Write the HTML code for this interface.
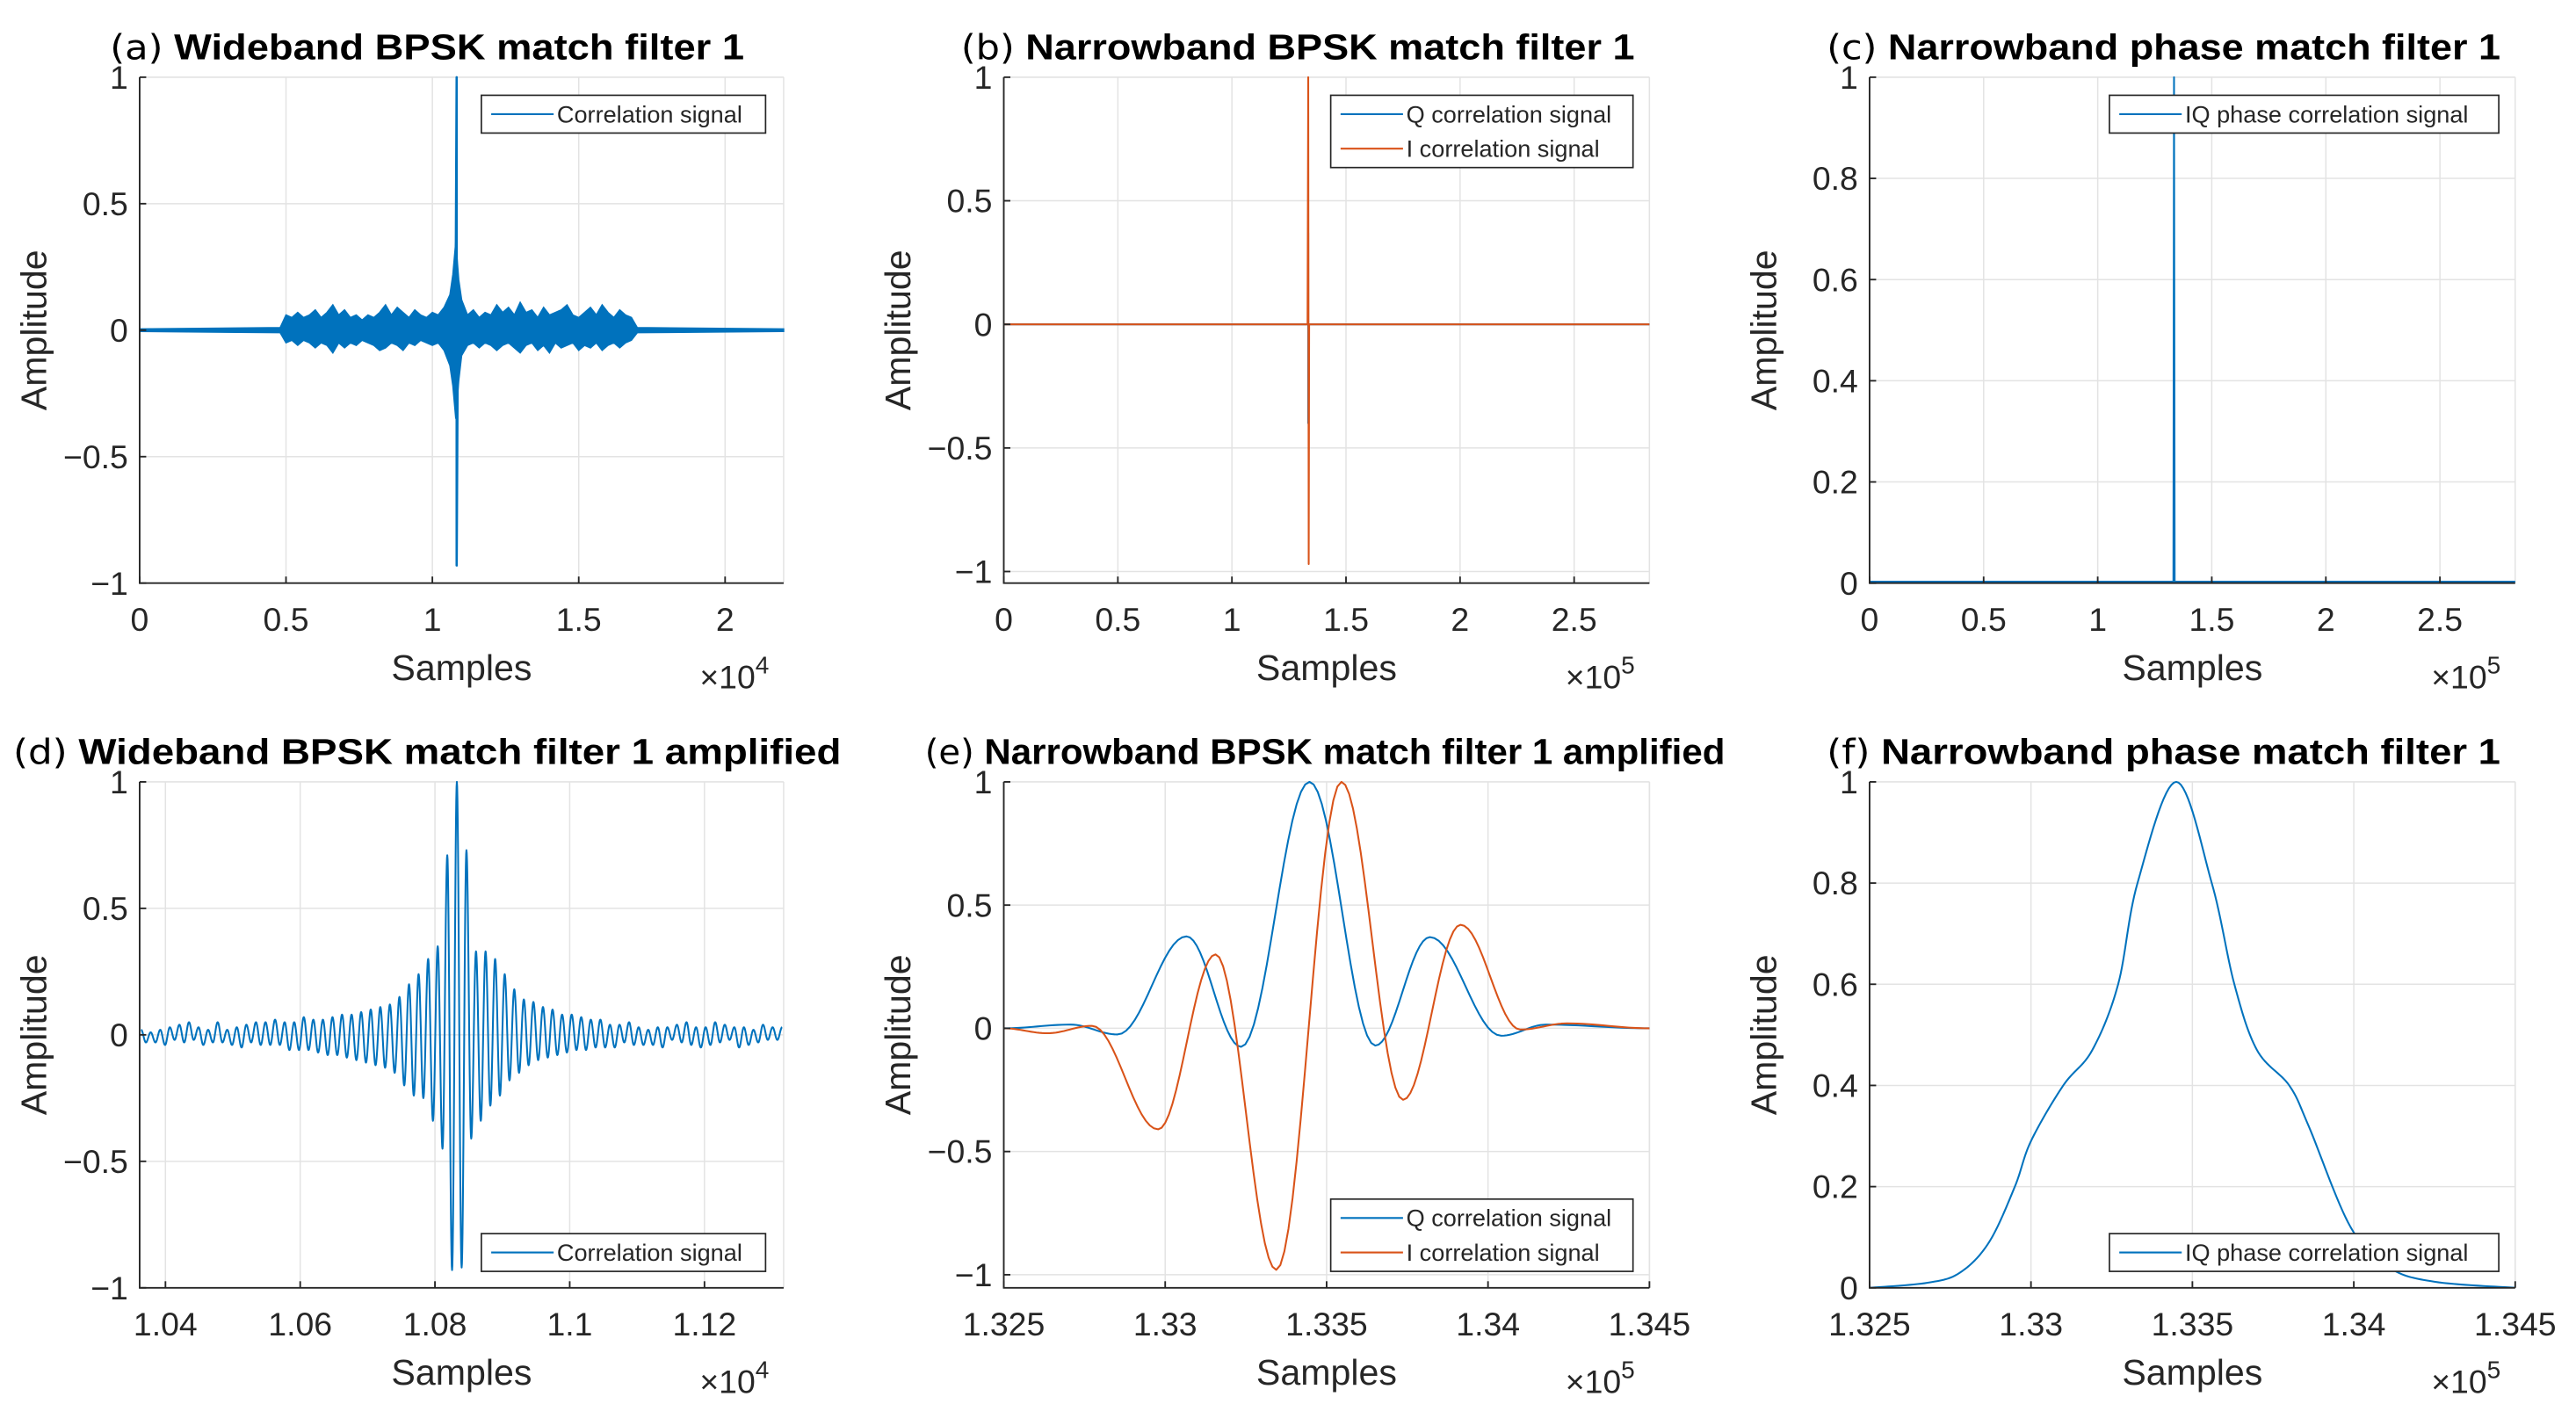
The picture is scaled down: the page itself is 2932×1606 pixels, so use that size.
<!DOCTYPE html>
<html><head><meta charset="utf-8"><style>
html,body{margin:0;padding:0;background:#fff;}
svg{display:block;font-family:"Liberation Sans",Arial,sans-serif;}
</style></head><body>
<svg id="fig" width="2932" height="1606" viewBox="0 0 1568 859" preserveAspectRatio="none" xmlns="http://www.w3.org/2000/svg"></svg>
<script>
// ---------- data ----------
const aEnvX = [0,0.48,0.5,0.52,0.54,0.56,0.58,0.6,0.62,0.64,0.66,0.68,0.7,0.72,0.74,0.76,0.78,0.8,0.82,0.84,0.86,0.88,0.9,0.92,0.94,0.96,0.98,1.0,1.02,1.04,1.06,1.07,1.08,1.09,1.10,1.12,1.14,1.16,1.18,1.2,1.22,1.24,1.26,1.28,1.3,1.32,1.34,1.36,1.38,1.4,1.42,1.44,1.46,1.48,1.5,1.52,1.54,1.56,1.58,1.6,1.62,1.64,1.66,1.68,1.7,2.2];
const aEnvUpper = [0.005,0.01,0.06,0.05,0.07,0.05,0.06,0.08,0.05,0.07,0.1,0.06,0.08,0.05,0.06,0.04,0.06,0.05,0.07,0.1,0.06,0.09,0.07,0.05,0.08,0.06,0.05,0.07,0.06,0.09,0.14,0.22,0.35,0.2,0.12,0.06,0.08,0.05,0.07,0.06,0.1,0.07,0.09,0.06,0.11,0.07,0.08,0.05,0.09,0.06,0.07,0.08,0.1,0.06,0.05,0.07,0.09,0.06,0.1,0.07,0.05,0.08,0.06,0.05,0.01,0.005];
const aEnvLower = [-0.005,-0.01,-0.05,-0.04,-0.06,-0.04,-0.05,-0.07,-0.05,-0.06,-0.09,-0.05,-0.07,-0.05,-0.06,-0.04,-0.05,-0.06,-0.08,-0.07,-0.05,-0.06,-0.08,-0.05,-0.06,-0.04,-0.05,-0.06,-0.05,-0.08,-0.14,-0.22,-0.35,-0.2,-0.1,-0.06,-0.05,-0.07,-0.05,-0.06,-0.08,-0.06,-0.05,-0.07,-0.09,-0.06,-0.05,-0.08,-0.06,-0.09,-0.05,-0.07,-0.06,-0.05,-0.08,-0.06,-0.07,-0.05,-0.08,-0.06,-0.05,-0.07,-0.05,-0.04,-0.01,-0.005];
const aSpikeX = 1.083, aSpikeMax = 1.0, aSpikeMin = -0.93;

const bSpikeX = 1.3345, bIMax = 1.0, bIMin = -0.97, bQMax = 0.37, bQMin = -0.40;

const cX = [0, 1.3318, 1.3345, 1.3372, 2.83];
const cY = [0.003, 0.003, 1.0, 0.003, 0.003];

const dStart = 1.03639, dHalfPeriod = 0.00071;
const dExtrema = [
0.02,-0.03,0.01,-0.03,0.02,-0.04,0.03,-0.02,0.04,-0.03,0.05,-0.02,0.03,-0.04,0.02,-0.03,0.05,-0.03,0.02,-0.04,0.03,-0.05,0.04,-0.03,0.05,-0.04,0.05,-0.04,0.06,-0.04,0.05,-0.06,0.05,-0.06,0.07,-0.06,
0.06,-0.07,0.06,-0.08,0.07,-0.08,0.08,-0.09,0.08,-0.10,0.09,-0.11,0.10,-0.12,0.11,-0.13,0.12,-0.15,0.15,-0.20,0.20,-0.24,0.24,-0.25,0.30,-0.34,0.35,-0.45,0.71,-0.93,
1.0,
-0.92,0.73,-0.41,0.33,-0.34,0.33,-0.28,0.30,-0.24,0.24,-0.18,0.18,-0.15,0.14,-0.12,0.13,-0.10,0.11,-0.09,0.10,-0.08,0.08,-0.07,0.08,-0.06,0.07,-0.06,0.06,-0.05,0.06,-0.05,0.04,-0.05,0.04,-0.03,0.05,-0.04,0.03,-0.04,0.02,-0.04,0.03,-0.05,0.03,-0.02,0.04,-0.03,0.05,-0.04,0.03,-0.05,0.03,-0.04,0.05,-0.03,0.04,-0.02,0.03,-0.05,0.03,-0.04,0.02,-0.03,0.04,-0.02,0.03,-0.02,0.03];

const eQX = [1.325,1.32707,1.32852,1.33066,1.33235,1.33447,1.33651,1.3382,1.34041,1.3418,1.345];
const eQY = [0,0.015,-0.025,0.373,-0.075,1.0,-0.07,0.37,-0.03,0.015,0];
const eIX = [1.325,1.32635,1.32773,1.32978,1.33156,1.33344,1.33546,1.33737,1.33915,1.341,1.34245,1.345];
const eIY = [0,-0.02,0.01,-0.41,0.30,-0.98,1.0,-0.29,0.42,-0.005,0.02,0];

const fX = [1.325,1.3268,1.3278,1.3287,1.3295,1.3300,1.3310,1.3319,1.3327,1.3333,1.3345,1.3356,1.3363,1.3370,1.3380,1.3386,1.3399,1.3411,1.3425,1.345];
const fY = [0,0.01,0.03,0.09,0.2,0.29,0.40,0.47,0.6,0.8,1.0,0.8,0.6,0.47,0.40,0.32,0.12,0.04,0.012,0];

const ticksA = [0,0.5,1,1.5,2], ticksBC = [0,0.5,1,1.5,2,2.5];
const ticksD = [1.04,1.06,1.08,1.1,1.12], ticksEF = [1.325,1.33,1.335,1.34,1.345];
const ticksY1 = [-1,-0.5,0,0.5,1], ticksY01 = [0,0.2,0.4,0.6,0.8,1];

// ---------- helpers ----------
const NS = "http://www.w3.org/2000/svg";
const svg = document.getElementById('fig');
const BLUE = "#0072BD", ORANGE = "#D95319", TXT = "#262626";
function mk(tag, attrs, parent){ const e = document.createElementNS(NS, tag); for (const k in attrs) e.setAttribute(k, attrs[k]); (parent||svg).appendChild(e); return e; }
function fmt(v){ let s = String(+v.toFixed(4)); return s.replace('-', '\u2212'); }

function panel(cfg){
  const g = mk('g', {});
  
  
  const X = v => cfg.x0 + (v - cfg.xmin) / (cfg.xmax - cfg.xmin) * (cfg.x1 - cfg.x0);
  const Y = v => cfg.y1 - (v - cfg.ymin) / (cfg.ymax - cfg.ymin) * (cfg.y1 - cfg.y0);
  cfg.xt.forEach(t => { const l = mk('line', {x1:X(t), x2:X(t), y1:cfg.y0, y2:cfg.y1, stroke:"#e3e3e3", "stroke-width":0.8}, g);   });
  cfg.yt.forEach(t => { const l = mk('line', {x1:cfg.x0, x2:cfg.x1, y1:Y(t), y2:Y(t), stroke:"#e3e3e3", "stroke-width":0.8}, g);   });
  mk('line', {x1:cfg.x0, x2:cfg.x1, y1:cfg.y0, y2:cfg.y0, stroke:"#e3e3e3", "stroke-width":0.8}, g);
  mk('line', {x1:cfg.x1, x2:cfg.x1, y1:cfg.y0, y2:cfg.y1, stroke:"#e3e3e3", "stroke-width":0.8}, g);
  const sg = mk('g', {}, g);
  
  
  const clip = mk('clipPath', {id: cfg.name + '-clip'});
  mk('rect', {x:cfg.x0, y:cfg.y0-1, width:cfg.x1-cfg.x0+1, height:cfg.y1-cfg.y0+1}, clip);
  sg.setAttribute('clip-path', 'url(#' + cfg.name + '-clip)');
  cfg.draw(sg, X, Y);
  const ax = mk('path', {d:`M${cfg.x0},${cfg.y0}V${cfg.y1}H${cfg.x1}`, fill:"none", stroke:TXT, "stroke-width":1}, g);
   
  cfg.xt.forEach(t => {
    mk('line', {x1:X(t), x2:X(t), y1:cfg.y1, y2:cfg.y1-4, stroke:TXT, "stroke-width":1}, g);
    const tx = mk('text', {x:X(t), y:cfg.y1+29, "text-anchor":"middle", "font-size":20, fill:TXT}, g);
    tx.textContent = fmt(t);
     
  });
  cfg.yt.forEach(t => {
    mk('line', {x1:cfg.x0, x2:cfg.x0+4, y1:Y(t), y2:Y(t), stroke:TXT, "stroke-width":1}, g);
    const tx = mk('text', {x:cfg.x0-7, y:Y(t)+7, "text-anchor":"end", "font-size":20, fill:TXT}, g);
    tx.textContent = fmt(t);
     
  });
  const xl = mk('text', {x:(cfg.x0+cfg.x1)/2, y:cfg.y1+59, "text-anchor":"middle", "font-size":22, fill:TXT}, g);
  xl.textContent = 'Samples';  
  const ex = mk('text', {x:cfg.x1-30, y:cfg.y1+64, "text-anchor":"middle", "font-size":20, fill:TXT}, g);
  ex.innerHTML = '\u00d710<tspan dy="-9" font-size="15">' + cfg.exp + '</tspan>';
   
  const yl = mk('text', {x:0, y:0, transform:`translate(${cfg.x0-57},${(cfg.y0+cfg.y1)/2}) rotate(-90)`, "text-anchor":"middle", "font-size":22, fill:TXT}, g);
  yl.textContent = 'Amplitude';  
  const tt = mk('text', {x:cfg.tx, y:cfg.ty, "font-size":22, fill:"#000"}, g);
  tt.innerHTML = '<tspan font-family="DejaVu Sans, sans-serif" font-size="21">' + cfg.tp + '</tspan><tspan font-weight="bold"> ' + cfg.title + '</tspan>';
  tt.setAttribute('textLength', cfg.tw); tt.setAttribute('lengthAdjust','spacingAndGlyphs');
   
  const lg = mk('g', {}, g);
   
  const h = cfg.legend.length * 21 + 2;
  mk('rect', {x:cfg.lx, y:cfg.ly, width:cfg.lw, height:h, fill:"#fff", stroke:TXT, "stroke-width":0.9}, lg);
  cfg.legend.forEach((e, i) => {
    const yy = cfg.ly + 11.5 + i*21;
    const le = mk('g', {}, lg);
     
    mk('line', {x1:cfg.lx+6, x2:cfg.lx+44, y1:yy, y2:yy, stroke:e[1], "stroke-width":1.1}, le);
    const t = mk('text', {x:cfg.lx+46, y:yy+5, "font-size":14.5, fill:TXT}, le);
    t.textContent = e[0];
  });
}
function polyline(parent, pts, color, name, w){
  const p = mk('polyline', {points: pts.map(q => q[0].toFixed(2)+','+q[1].toFixed(2)).join(' '), fill:"none", stroke:color, "stroke-width":w||1.1, "stroke-linejoin":"round"}, parent);
   
  return p;
}
function cosPts(xs, ys, X, Y){
  const pts = [];
  for (let i=0;i<xs.length-1;i++){
    for (let k=0;k<16;k++){ const t=k/16, s=(1-Math.cos(Math.PI*t))/2; pts.push([X(xs[i]+(xs[i+1]-xs[i])*t), Y(ys[i]+(ys[i+1]-ys[i])*s)]); }
  }
  pts.push([X(xs[xs.length-1]), Y(ys[ys.length-1])]);
  return pts;
}
function crPts(xs, ys, X, Y){
  const P = xs.map((x,i)=>[X(x),Y(ys[i])]); const pts=[];
  for (let i=0;i<P.length-1;i++){
    const p0=P[Math.max(0,i-1)], p1=P[i], p2=P[i+1], p3=P[Math.min(P.length-1,i+2)];
    for (let k=0;k<16;k++){ const t=k/16,t2=t*t,t3=t2*t;
      pts.push([0.5*((2*p1[0])+(-p0[0]+p2[0])*t+(2*p0[0]-5*p1[0]+4*p2[0]-p3[0])*t2+(-p0[0]+3*p1[0]-3*p2[0]+p3[0])*t3),
                0.5*((2*p1[1])+(-p0[1]+p2[1])*t+(2*p0[1]-5*p1[1]+4*p2[1]-p3[1])*t2+(-p0[1]+3*p1[1]-3*p2[1]+p3[1])*t3)]); }
  }
  pts.push(P[P.length-1]); return pts;
}

panel({name:'panel-a', x0:85, x1:477, y0:47, y1:355, xmin:0, xmax:2.2, ymin:-1, ymax:1, xt:ticksA, yt:ticksY1, exp:4,
  tx:67, ty:36, tw:386, tp:'(a)', title:'Wideband BPSK match filter 1', lx:293, ly:58, lw:173, legend:[['Correlation signal',BLUE]],
  draw:(g,X,Y)=>{
    const up = aEnvX.map((x,i)=>[X(x),Y(aEnvUpper[i])]);
    const lo = aEnvX.map((x,i)=>[X(x),Y(aEnvLower[i])]).reverse();
    const a = mk('polygon',{points:up.concat(lo).map(q=>q.join(',')).join(' '), fill:BLUE, stroke:BLUE, "stroke-width":0.8, "stroke-linejoin":"miter"}, g);
     
    polyline(g, [[X(aSpikeX-0.004),Y(0)],[X(aSpikeX),Y(aSpikeMax)],[X(aSpikeX),Y(aSpikeMin)],[X(aSpikeX+0.004),Y(0)]], BLUE, 'correlation-spike', 1.4);
  }});
panel({name:'panel-b', x0:611, x1:1004, y0:47, y1:355, xmin:0, xmax:2.83, ymin:-1.047, ymax:1, xt:ticksBC, yt:ticksY1, exp:5,
  tx:585, ty:36, tw:410, tp:'(b)', title:'Narrowband BPSK match filter 1', lx:810, ly:58, lw:184, legend:[['Q correlation signal',BLUE],['I correlation signal',ORANGE]],
  draw:(g,X,Y)=>{
    polyline(g, [[X(0),Y(0)],[X(bSpikeX),Y(0)],[X(bSpikeX),Y(bQMax)],[X(bSpikeX),Y(bQMin)],[X(bSpikeX),Y(0)],[X(2.83),Y(0)]], BLUE, 'q-correlation-line');
    polyline(g, [[X(0),Y(0)],[X(bSpikeX-0.003),Y(0)],[X(bSpikeX),Y(bIMax)],[X(bSpikeX+0.002),Y(bIMin)],[X(bSpikeX+0.004),Y(0)],[X(2.83),Y(0)]], ORANGE, 'i-correlation-line');
  }});
panel({name:'panel-c', x0:1138, x1:1531, y0:47, y1:355, xmin:0, xmax:2.83, ymin:0, ymax:1, xt:ticksBC, yt:ticksY01, exp:5,
  tx:1112, ty:36, tw:410, tp:'(c)', title:'Narrowband phase match filter 1', lx:1284, ly:58, lw:237, legend:[['IQ phase correlation signal',BLUE]],
  draw:(g,X,Y)=>{ polyline(g, cX.map((x,i)=>[X(x),Y(cY[i])]), BLUE, 'iq-phase-correlation-line'); }});
panel({name:'panel-d', x0:85, x1:477, y0:476, y1:784, xmin:1.03617, xmax:1.13175, ymin:-1, ymax:1, xt:ticksD, yt:ticksY1, exp:4,
  tx:8, ty:465, tw:504, tp:'(d)', title:'Wideband BPSK match filter 1 amplified', lx:293, ly:751, lw:173, legend:[['Correlation signal',BLUE]],
  draw:(g,X,Y)=>{ const xs = dExtrema.map((v,i)=>dStart+i*dHalfPeriod); polyline(g, cosPts(xs, dExtrema, X, Y), BLUE, 'correlation-signal-line'); }});
panel({name:'panel-e', x0:611, x1:1004, y0:476, y1:784, xmin:1.325, xmax:1.345, ymin:-1.053, ymax:1, xt:ticksEF, yt:ticksY1, exp:5,
  tx:563, ty:465, tw:487, tp:'(e)', title:'Narrowband BPSK match filter 1 amplified', lx:810, ly:730, lw:184, legend:[['Q correlation signal',BLUE],['I correlation signal',ORANGE]],
  draw:(g,X,Y)=>{ polyline(g, cosPts(eQX,eQY,X,Y), BLUE, 'q-correlation-line'); polyline(g, cosPts(eIX,eIY,X,Y), ORANGE, 'i-correlation-line'); }});
panel({name:'panel-f', x0:1138, x1:1531, y0:476, y1:784, xmin:1.325, xmax:1.345, ymin:0, ymax:1, xt:ticksEF, yt:ticksY01, exp:5,
  tx:1112, ty:465, tw:410, tp:'(f)', title:'Narrowband phase match filter 1', lx:1284, ly:751, lw:237, legend:[['IQ phase correlation signal',BLUE]],
  draw:(g,X,Y)=>{ polyline(g, crPts(fX,fY,X,Y), BLUE, 'iq-phase-correlation-line'); }});
</script>
</body></html>
